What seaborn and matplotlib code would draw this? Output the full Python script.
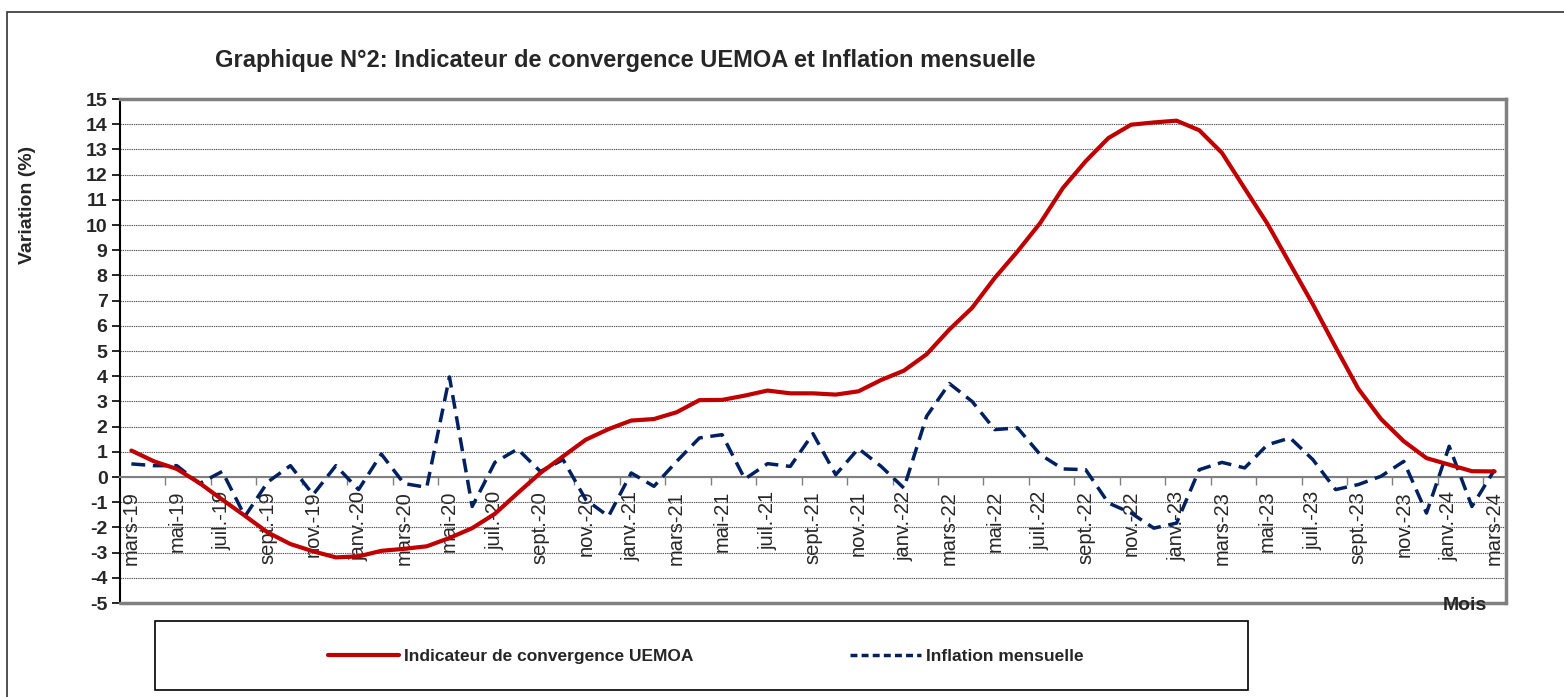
import numpy as np
import pandas as pd
import matplotlib
matplotlib.use("Agg")
import matplotlib.pyplot as plt
from matplotlib.patches import Rectangle
from matplotlib.lines import Line2D
import seaborn as sns

# ---- data ----
month_names = ["janv.", "févr.", "mars", "avr.", "mai", "juin",
               "juil.", "août", "sept.", "oct.", "nov.", "déc."]
months = []
for k in range(61):
    m = (2 + k) % 12
    y = 19 + (2 + k) // 12
    months.append(f"{month_names[m]}-{y}")

convergence = [1.05, 0.62, 0.32, -0.24, -0.90, -1.54, -2.20, -2.66, -2.95, -3.19,
               -3.15, -2.93, -2.85, -2.75, -2.42, -2.03, -1.46, -0.64, 0.16, 0.82,
               1.48, 1.90, 2.24, 2.30, 2.57, 3.05, 3.06, 3.23, 3.43, 3.32,
               3.32, 3.27, 3.40, 3.85, 4.22, 4.87, 5.85, 6.71, 7.90, 8.95,
               10.08, 11.47, 12.53, 13.45, 13.98, 14.07, 14.14, 13.76, 12.86, 11.45,
               10.05, 8.45, 6.85, 5.15, 3.50, 2.30, 1.42, 0.75, 0.49, 0.23, 0.22]

inflation = [0.52, 0.45, 0.45, -0.26, 0.22, -1.56, -0.20, 0.45, -0.70, 0.45,
             -0.50, 0.91, -0.26, -0.41, 3.97, -1.17, 0.58, 1.11, 0.22, 0.69,
             -0.90, -1.56, 0.16, -0.37, 0.62, 1.55, 1.68, -0.08, 0.53, 0.42,
             1.72, 0.09, 1.13, 0.42, -0.44, 2.41, 3.71, 3.00, 1.88, 1.95,
             0.89, 0.32, 0.29, -1.03, -1.43, -2.03, -1.83, 0.29, 0.58, 0.36,
             1.28, 1.55, 0.69, -0.50, -0.30, 0.03, 0.62, -1.43, 1.22, -1.17, 0.29]

series_names = ["Indicateur de convergence UEMOA", "Inflation mensuelle"]
colors = ["#C00000", "#002060"]
yticks = list(range(-5, 16))

df = pd.DataFrame({
    "idx": list(range(len(months))) * 2,
    "value": convergence + inflation,
    "serie": [series_names[0]] * len(months) + [series_names[1]] * len(months),
})

# ---- figure ----
sns.set_style("white")
plt.rcParams["font.family"] = ["Liberation Sans", "DejaVu Sans"]

W, H = 1564, 697
fig = plt.figure(figsize=(W / 100, H / 100), dpi=100)
ax = fig.add_axes([120 / W, 1 - 603 / H, (1506 - 120) / W, (603 - 99) / H])

sns.lineplot(data=df, x="idx", y="value", hue="serie", style="serie",
             palette=dict(zip(series_names, colors)),
             dashes={series_names[0]: "", series_names[1]: (4, 2.2)},
             linewidth=2.8, ax=ax, legend=False, sort=False)
lines = ax.get_lines()
lines[0].set_linewidth(3.0)
lines[1].set_linewidth(2.5)
lines[1].set_zorder(3)
lines[0].set_zorder(4)

ax.set_xlim(-0.5, len(months) - 0.5)
ax.set_ylim(-5, 15)
ax.set_xlabel("")
ax.set_ylabel("")

# y axis
ax.set_yticks(yticks)
ax.set_yticklabels([str(v) for v in yticks], fontsize=14, fontweight="bold")
ax.tick_params(axis="y", direction="out", length=6, width=1.2, color="black", pad=3, left=True)
ax.yaxis.grid(True, linestyle=(0, (1.2, 0.8)), color="#555555", linewidth=0.8)
ax.xaxis.grid(False)

# x axis at zero
ax.spines["bottom"].set_position(("data", 0))
ax.spines["bottom"].set_color("#808080")
ax.spines["bottom"].set_linewidth(1.5)
ax.set_xticks(list(range(0, len(months), 2)))
ax.set_xticklabels(months[::2], rotation=90, fontsize=14.5, va="top", ha="center")
ax.set_xticks([i - 0.5 for i in range(0, len(months), 2)][1:], minor=True)
ax.tick_params(axis="x", which="major", length=0, pad=10, bottom=True)
ax.tick_params(axis="x", which="minor", length=6, width=1, color="#808080", direction="out", bottom=True)

ax.spines["left"].set_color("black")
ax.spines["left"].set_linewidth(1.5)
for s in ["top", "right"]:
    ax.spines[s].set_color("#808080")
    ax.spines[s].set_linewidth(2.5)
    ax.spines[s].set_visible(True)
ax.axhline(-5, color="#808080", linewidth=2.5, clip_on=False, zorder=5)

# outer frame
fig.patches.append(Rectangle((7 / W, -0.05), 1.2, 1 - 12 / H + 0.05, transform=fig.transFigure,
                             fill=False, edgecolor="#333333", linewidth=1.2))

# titles
fig.text(625 / W, 1 - 61 / H, "Graphique N°2: Indicateur de convergence UEMOA et Inflation mensuelle",
         ha="center", va="center", fontsize=17, fontweight="bold")
fig.text(28 / W, 1 - 205 / H, "Variation (%)", rotation=90, ha="center", va="center",
         fontsize=14, fontweight="bold")
fig.text(1465 / W, 1 - 606 / H, "Mois", ha="center", va="center", fontsize=14, fontweight="bold")

# legend box
fig.patches.append(Rectangle((155 / W, 1 - 690 / H), (1248 - 155) / W, (690 - 621) / H,
                             transform=fig.transFigure, fill=False, edgecolor="black", linewidth=1.2))
handles = [Line2D([], [], color=colors[0], linewidth=3.0),
           Line2D([], [], color=colors[1], linewidth=2.5, linestyle=(0, (2, 1.2)))]
fig.legend(handles, series_names, loc="center", bbox_to_anchor=(706 / W, 1 - 656 / H),
           ncol=2, frameon=False, prop={"size": 12.5, "weight": "bold"},
           handlelength=4.1, handletextpad=0.3, columnspacing=9.0)

fig.savefig("out.png", dpi=100)
